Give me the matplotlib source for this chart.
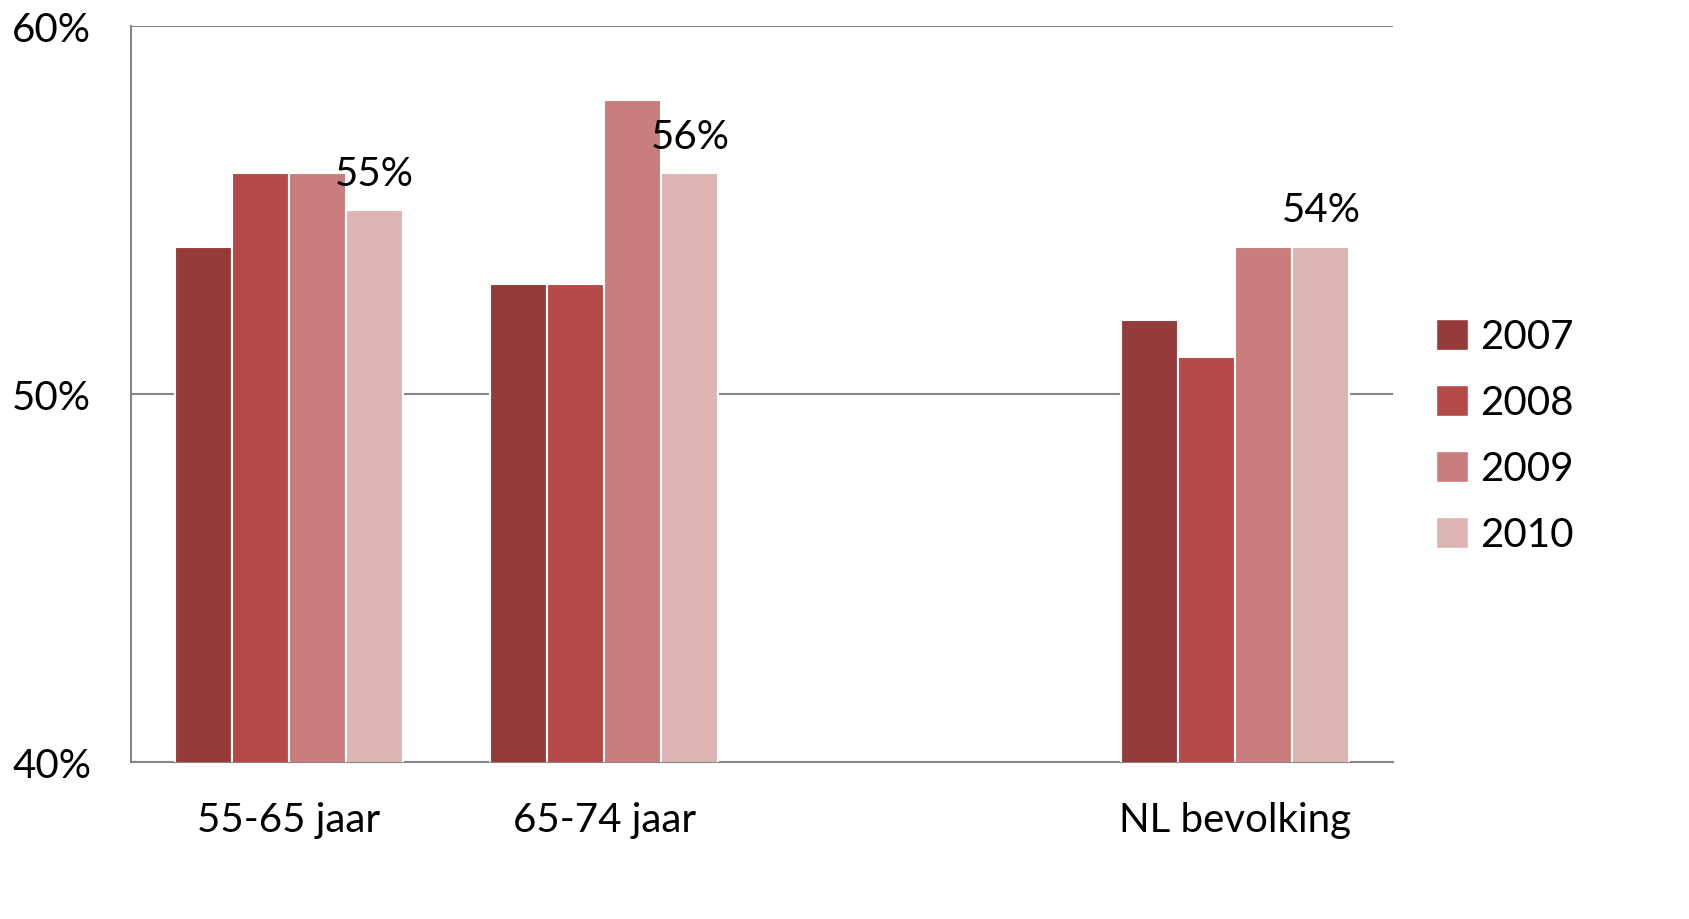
import matplotlib
matplotlib.use("Agg")
import matplotlib.pyplot as plt
import numpy as np
from matplotlib.patches import Patch

categories = ['55-65 jaar', '65-74 jaar', '', 'NL bevolking']
years = ['2007', '2008', '2009', '2010']
v2007 = [54, 53, np.nan, 52]
v2008 = [56, 53, np.nan, 51]
v2009 = [56, 58, np.nan, 54]
v2010 = [55, 56, np.nan, 54]
series = [v2007, v2008, v2009, v2010]
colors = ['#953B3A', '#B34A48', '#C97D7D', '#DDB4B4']

plt.rcParams['font.family'] = ['Lato', 'DejaVu Sans']

fig = plt.figure(figsize=(16.89, 9.2), dpi=100)
ax = fig.add_axes([131 / 1689, 1 - 763 / 920, (1393 - 131) / 1689, (763 - 27) / 920])

x = np.arange(len(categories))
w = 0.181
for i, (vals, col) in enumerate(zip(series, colors)):
    ax.bar(x + (i - 1.5) * w, vals, width=w, color=col, edgecolor='white',
           linewidth=1.5, zorder=3)

# value labels above the 2010 bars
for xi, v in zip(x, v2010):
    if not np.isnan(v):
        ax.text(xi + 1.5 * w, v + 0.5, f'{v:.0f}%', ha='center', va='bottom',
                fontsize=29, color='black', zorder=4)

ax.set_xlim(-0.5, 3.5)
ax.set_ylim(40, 60)
ax.set_yticks([40, 50, 60])
ax.set_yticklabels(['40%', '50%', '60%'])
ax.set_xticks(x)
ax.set_xticklabels(categories)
ax.tick_params(axis='y', length=0, labelsize=29)
ax.tick_params(axis='x', length=0, pad=28, labelsize=29)
for lab in ax.get_yticklabels():
    lab.set_horizontalalignment('left')
    lab.set_x(-119 / 1262)
    lab.set_transform(ax.get_yaxis_transform())

ax.grid(axis='y', color='#868686', linewidth=1.5, zorder=0)
for s in ['top', 'right']:
    ax.spines[s].set_visible(False)
ax.spines['left'].set_color('#868686')
ax.spines['left'].set_linewidth(1.5)
ax.spines['bottom'].set_color('#868686')
ax.spines['bottom'].set_linewidth(1.5)

handles = [Patch(facecolor=c, edgecolor='white') for c in colors]
fig.legend(handles, years, loc='center left', bbox_to_anchor=(1436 / 1689, 1 - 437 / 920),
           frameon=False, fontsize=29, handlelength=0.8, handleheight=0.8,
           handletextpad=0.3, labelspacing=0.72, borderaxespad=0, borderpad=0)

fig.savefig('out.png', dpi=100)
